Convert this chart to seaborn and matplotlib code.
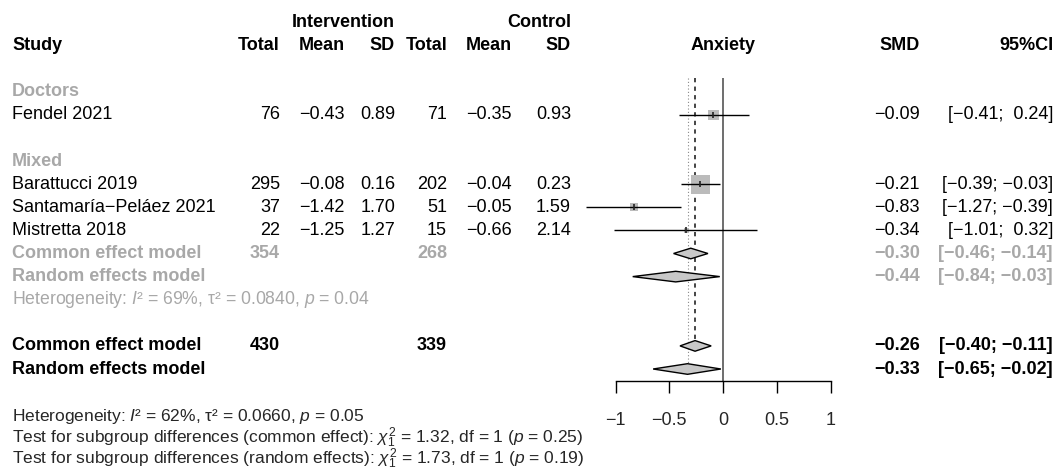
#!/usr/bin/env python3
"""Forest plot: anxiety SMD by subgroup (meta-style layout)"""

import numpy as np
import pandas as pd
import matplotlib
matplotlib.use("Agg")
import matplotlib.pyplot as plt
import matplotlib.transforms as mtransforms
import seaborn as sns

# ---- data ----
studies = ["Fendel 2021", "Barattucci 2019", "Santamaría\u2212Peláez 2021", "Mistretta 2018"]
subgroups = ["Doctors", "Mixed", "Mixed", "Mixed"]
n_int = [76, 295, 37, 22]
mean_int = [-0.43, -0.08, -1.42, -1.25]
sd_int = [0.89, 0.16, 1.70, 1.27]
n_ctl = [71, 202, 51, 15]
mean_ctl = [-0.35, -0.04, -0.05, -0.66]
sd_ctl = [0.93, 0.23, 1.59, 2.14]
smd = [-0.09, -0.21, -0.83, -0.34]
ci_low = [-0.41, -0.39, -1.27, -1.01]
ci_high = [0.24, -0.03, -0.39, 0.32]
weights = [19.8, 64.5, 10.9, 4.7]  # common-effect weights (%)

# Mixed subgroup summaries
mixed_totals = [354, 268]
mixed_common = [-0.30, -0.46, -0.14]
mixed_random = [-0.44, -0.84, -0.03]
mixed_het = "Heterogeneity: $I$\u00b2 = 69%, \u03c4\u00b2 = 0.0840, $p$ = 0.04"

# overall summaries
overall_totals = [430, 339]
overall_common = [-0.26, -0.40, -0.11]
overall_random = [-0.33, -0.65, -0.02]

xticks = [-1, -0.5, 0, 0.5, 1]
xticklabels = ["\u22121", "\u22120.5", "0", "0.5", "1"]

footer = [
    "Heterogeneity: $I$\u00b2 = 62%, \u03c4\u00b2 = 0.0660, $p$ = 0.05",
    r"Test for subgroup differences (common effect): $\chi^2_1$ = 1.32, df = 1 ($p$ = 0.25)",
    r"Test for subgroup differences (random effects): $\chi^2_1$ = 1.73, df = 1 ($p$ = 0.19)",
]

# ---- layout ----
W, H = 1059, 471
ROW0_PX, ROW_H = 22.5, 23.1
AXIS_ROW = 15.5
X_LO, X_HI = -1.35, 1.35
PPU = 107.5          # pixels per SMD unit
ZERO_PX = 723
GREY = "#a8a8a8"
FS = 13

study_rows = [4, 7, 8, 9]
sub_rows = {"Doctors": 3, "Mixed": 6}
mixed_common_row, mixed_random_row, mixed_het_row = 10, 11, 12
overall_common_row, overall_random_row = 14, 15

sns.set_theme(style="white")
plt.rcParams["font.family"] = ["Liberation Sans", "DejaVu Sans"]
plt.rcParams["mathtext.fontset"] = "custom"
plt.rcParams["mathtext.rm"] = "Liberation Sans"
plt.rcParams["mathtext.it"] = "Liberation Sans:italic"
plt.rcParams["mathtext.bf"] = "Liberation Sans:bold"


def fmt(v, nd=2):
    return f"{v:.{nd}f}".replace("-", "\u2212")


def fmt_ci(lo, hi):
    a = fmt(lo) if lo < 0 else "  " + fmt(lo)
    b = fmt(hi) if hi < 0 else "  " + fmt(hi)
    return f"[{a};{' ' if hi < 0 else ''}{b}]"


fig = plt.figure(figsize=(W / 100, H / 100), dpi=100)
left_px = ZERO_PX + X_LO * PPU
ax = fig.add_axes([left_px / W, 1 - (ROW0_PX + AXIS_ROW * ROW_H) / H,
                   (X_HI - X_LO) * PPU / W, AXIS_ROW * ROW_H / H])
ax.set_xlim(X_LO, X_HI)
ax.set_ylim(AXIS_ROW, 0)
ax.set_facecolor("none")

tr = mtransforms.blended_transform_factory(fig.transFigure, ax.transData)


def put(px, row, s, ha="right", bold=False, color="black", size=FS):
    ax.text(px / W, row, s, transform=tr, ha=ha, va="center", fontsize=size,
            fontweight="bold" if bold else "normal", color=color)


# reference lines
line_top = 2.4
dh = 0.23
ax.vlines(0, line_top, AXIS_ROW, color="#555555", lw=1.2)
ax.vlines(overall_common[0], line_top, overall_common_row - dh, color="#444444",
          lw=1.4, linestyles=(0, (2.2, 2.2)))
ax.vlines(overall_random[0], line_top, overall_random_row - dh, color="#888888",
          lw=0.8, linestyles=(0, (1, 2)))

# study squares + CIs
df = pd.DataFrame({"smd": smd, "lo": ci_low, "hi": ci_high, "row": study_rows, "w": weights})
side_px = 19.3 * np.sqrt(df["w"] / max(weights))
df["s"] = (side_px * 0.72) ** 2
sns.scatterplot(data=df, x="smd", y="row", marker="s", s=df["s"], color="#bbbbbb",
                linewidth=0, legend=False, ax=ax, zorder=3)
ax.hlines(df["row"], df["lo"], df["hi"], color="black", lw=1.0, zorder=4)
ax.plot(df["smd"], df["row"], ls="none", marker="|", ms=5, mew=1.2, color="#222222", zorder=5)


def diamond(est, lo, hi, row):
    ax.fill([lo, est, hi, est], [row, row - dh, row, row + dh],
            facecolor="#c8c8c8", edgecolor="black", lw=1.0, zorder=4)


diamond(*mixed_common, mixed_common_row)
diamond(*mixed_random, mixed_random_row)
diamond(*overall_common, overall_common_row)
diamond(*overall_random, overall_random_row)

# axis
for side in ["top", "left", "right"]:
    ax.spines[side].set_visible(False)
ax.spines["bottom"].set_bounds(-1, 1)
ax.spines["bottom"].set_color("black")
ax.spines["bottom"].set_linewidth(1.0)
ax.set_yticks([])
ax.set_xticks(xticks)
ax.set_xticklabels(xticklabels, fontsize=FS)
ax.tick_params(axis="x", direction="out", length=8.6, width=1.0, color="black",
               pad=14, bottom=True)
ax.set_xlabel("")
ax.set_ylabel("")

# column positions (right edges, px)
c_tot_i, c_mean_i, c_sd_i = 280, 345, 395
c_tot_c, c_mean_c, c_sd_c = 447, 512, 571
c_smd, c_ci = 920, 1053
x_study = 12

# headers
put(c_sd_i, 0, "Intervention", bold=True)
put(c_sd_c, 0, "Control", bold=True)
put(x_study, 1, "Study", ha="left", bold=True)
for px, lab in [(c_tot_i, "Total"), (c_mean_i, "Mean"), (c_sd_i, "SD"),
                (c_tot_c, "Total"), (c_mean_c, "Mean"), (c_sd_c, "SD"),
                (c_smd, "SMD"), (c_ci, "95%CI")]:
    put(px, 1, lab, bold=True)
put(ZERO_PX, 1, "Anxiety", ha="center", bold=True)

# subgroup labels
for name, row in sub_rows.items():
    put(x_study, row, name, ha="left", bold=True, color=GREY)

# study rows
for i, row in enumerate(study_rows):
    put(x_study, row, studies[i], ha="left")
    put(c_tot_i, row, str(n_int[i]))
    put(c_mean_i, row, fmt(mean_int[i]))
    put(c_sd_i, row, fmt(sd_int[i]))
    put(c_tot_c, row, str(n_ctl[i]))
    put(c_mean_c, row, fmt(mean_ctl[i]))
    put(c_sd_c, row, fmt(sd_ctl[i]))
    put(c_smd, row, fmt(smd[i]))
    put(c_ci, row, fmt_ci(ci_low[i], ci_high[i]))

# mixed subgroup summaries
put(x_study, mixed_common_row, "Common effect model", ha="left", bold=True, color=GREY)
put(c_tot_i, mixed_common_row, str(mixed_totals[0]), bold=True, color=GREY)
put(c_tot_c, mixed_common_row, str(mixed_totals[1]), bold=True, color=GREY)
put(c_smd, mixed_common_row, fmt(mixed_common[0]), bold=True, color=GREY)
put(c_ci, mixed_common_row, fmt_ci(*mixed_common[1:]), bold=True, color=GREY)
put(x_study, mixed_random_row, "Random effects model", ha="left", bold=True, color=GREY)
put(c_smd, mixed_random_row, fmt(mixed_random[0]), bold=True, color=GREY)
put(c_ci, mixed_random_row, fmt_ci(*mixed_random[1:]), bold=True, color=GREY)
put(x_study, mixed_het_row, mixed_het, ha="left", color=GREY, size=12.7)

# overall summaries
put(x_study, overall_common_row, "Common effect model", ha="left", bold=True)
put(c_tot_i, overall_common_row, str(overall_totals[0]), bold=True)
put(c_tot_c, overall_common_row, str(overall_totals[1]), bold=True)
put(c_smd, overall_common_row, fmt(overall_common[0]), bold=True)
put(c_ci, overall_common_row, fmt_ci(*overall_common[1:]), bold=True)
put(x_study, overall_random_row, "Random effects model", ha="left", bold=True)
put(c_smd, overall_random_row, fmt(overall_random[0]), bold=True)
put(c_ci, overall_random_row, fmt_ci(*overall_random[1:]), bold=True)

# footer
for k, line in enumerate(footer):
    fig.text(x_study / W, 1 - (416 + 21.5 * k) / H, line, ha="left", va="center",
             fontsize=12.5)

fig.savefig("out.png", dpi=100)
plt.close(fig)
